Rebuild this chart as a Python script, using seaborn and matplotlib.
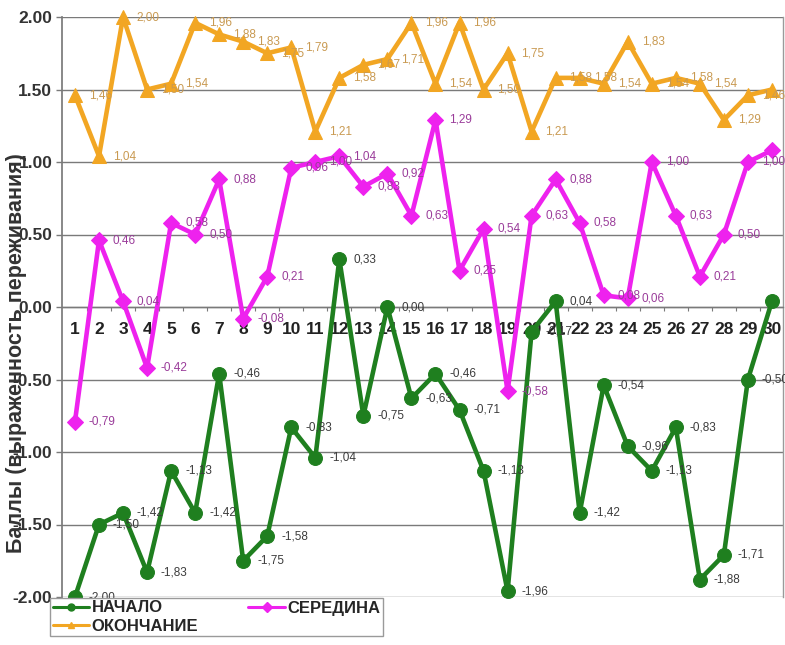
import matplotlib
matplotlib.use("Agg")
import matplotlib.pyplot as plt
from matplotlib.lines import Line2D
from matplotlib.ticker import FixedLocator, NullFormatter
import seaborn as sns
import pandas as pd

# Scores per respondent at three stages
categories = list(range(1, 31))
nachalo = [-2.00, -1.50, -1.42, -1.83, -1.13, -1.42, -0.46, -1.75, -1.58, -0.83,
           -1.04, 0.33, -0.75, 0.00, -0.63, -0.46, -0.71, -1.13, -1.96, -0.17,
           0.04, -1.42, -0.54, -0.96, -1.13, -0.83, -1.88, -1.71, -0.50, 0.04]
seredina = [-0.79, 0.46, 0.04, -0.42, 0.58, 0.50, 0.88, -0.08, 0.21, 0.96,
            1.00, 1.04, 0.83, 0.92, 0.63, 1.29, 0.25, 0.54, -0.58, 0.63,
            0.88, 0.58, 0.08, 0.06, 1.00, 0.63, 0.21, 0.50, 1.00, 1.08]
okonchanie = [1.46, 1.04, 2.00, 1.50, 1.54, 1.96, 1.88, 1.83, 1.75, 1.79,
              1.21, 1.58, 1.67, 1.71, 1.96, 1.54, 1.96, 1.50, 1.75, 1.21,
              1.58, 1.58, 1.54, 1.83, 1.54, 1.58, 1.54, 1.29, 1.46, 1.50]
series_names = ["НАЧАЛО", "СЕРЕДИНА", "ОКОНЧАНИЕ"]
y_ticks = [-2.0, -1.5, -1.0, -0.5, 0.0, 0.5, 1.0, 1.5, 2.0]

colors = {"НАЧАЛО": "#1f7f1f", "СЕРЕДИНА": "#ee22ee", "ОКОНЧАНИЕ": "#f2a623"}
label_colors = {"НАЧАЛО": "#3c3c3c", "СЕРЕДИНА": "#9a3c9a", "ОКОНЧАНИЕ": "#c99a52"}
markers = {"НАЧАЛО": "o", "СЕРЕДИНА": "D", "ОКОНЧАНИЕ": "^"}
msizes = {"НАЧАЛО": 10, "СЕРЕДИНА": 8, "ОКОНЧАНИЕ": 10}

df = pd.DataFrame({
    "cat": categories * 3,
    "val": nachalo + seredina + okonchanie,
    "series": [s for s in series_names for _ in categories],
})

sns.set_theme(style="white")
plt.rcParams["font.family"] = ["Liberation Sans", "DejaVu Sans"]

fig = plt.figure(figsize=(7.85, 6.45), dpi=100)
ax = fig.add_axes([62 / 785, 1 - 597 / 645, 721 / 785, 580 / 645])

for name in series_names:
    sub = df[df["series"] == name]
    sns.lineplot(data=sub, x="cat", y="val", ax=ax, color=colors[name],
                 marker=markers[name], markersize=msizes[name],
                 markeredgecolor=colors[name], linewidth=3.3,
                 legend=False, clip_on=False, zorder=3)
    for x, v in zip(sub["cat"], sub["val"]):
        ax.annotate(f"{v:.2f}".replace(".", ","), (x, v), xytext=(10, 0),
                    textcoords="offset points", ha="left", va="center",
                    fontsize=8.5, color=label_colors[name], zorder=5,
                    annotation_clip=False)

ax.set_xlim(0.46, 30.46)
ax.set_ylim(-2.0, 2.0)
ax.set_yticks(y_ticks)
ax.set_yticklabels([f"{t:.2f}" for t in y_ticks])
ax.yaxis.grid(True, color="#7a7a7a", linewidth=1.0)
ax.xaxis.grid(False)

# category axis runs along the zero line
ax.spines["bottom"].set_position(("data", 0))
ax.spines["bottom"].set_color("#7a7a7a")
ax.spines["bottom"].set_linewidth(1.0)
ax.spines["left"].set_color("#7a7a7a")
ax.spines["right"].set_color("#9a9a9a")
ax.spines["right"].set_linewidth(1.0)
ax.spines["top"].set_visible(False)

ax.set_xticks(categories)
ax.set_xticklabels([str(c) for c in categories])
ax.xaxis.set_minor_locator(FixedLocator([c + 0.5 for c in categories[:-1]]))
ax.xaxis.set_minor_formatter(NullFormatter())
ax.tick_params(axis="x", which="major", length=0, pad=11, labelsize=12.5,
               labelcolor="#222222")
ax.tick_params(axis="x", which="minor", length=3, width=0.8, color="#7a7a7a",
               direction="out", bottom=True)
for t in ax.get_xticklabels():
    t.set_fontweight("bold")
ax.tick_params(axis="y", length=4, width=1.0, color="#7a7a7a", direction="out",
               left=True, pad=3, labelsize=12.5, labelcolor="#333333")
for t in ax.get_yticklabels():
    t.set_fontweight("bold")

ax.set_xlabel("")
ax.set_ylabel("Баллы (выраженность переживания)", fontsize=15.5,
              fontweight="bold", color="#333333")
ax.yaxis.set_label_coords(-0.049, 0.42)

handles = [Line2D([0], [0], color=colors[n], marker=markers[n], markersize=5,
                  linewidth=2.2) for n in ["НАЧАЛО", "ОКОНЧАНИЕ", "СЕРЕДИНА"]]
leg = fig.legend(handles, ["НАЧАЛО", "ОКОНЧАНИЕ", "СЕРЕДИНА"], ncol=2,
                 loc="upper left", bbox_to_anchor=(50 / 785, 1 - 598 / 645),
                 frameon=True, fancybox=False, edgecolor="#9a9a9a",
                 framealpha=1, handlelength=2.2, handletextpad=0.15,
                 columnspacing=3.0, labelspacing=0.2, borderpad=0.15,
                 borderaxespad=0, prop={"weight": "bold", "size": 12})
leg.get_frame().set_linewidth(1.0)

fig.savefig("out.png", dpi=100)
